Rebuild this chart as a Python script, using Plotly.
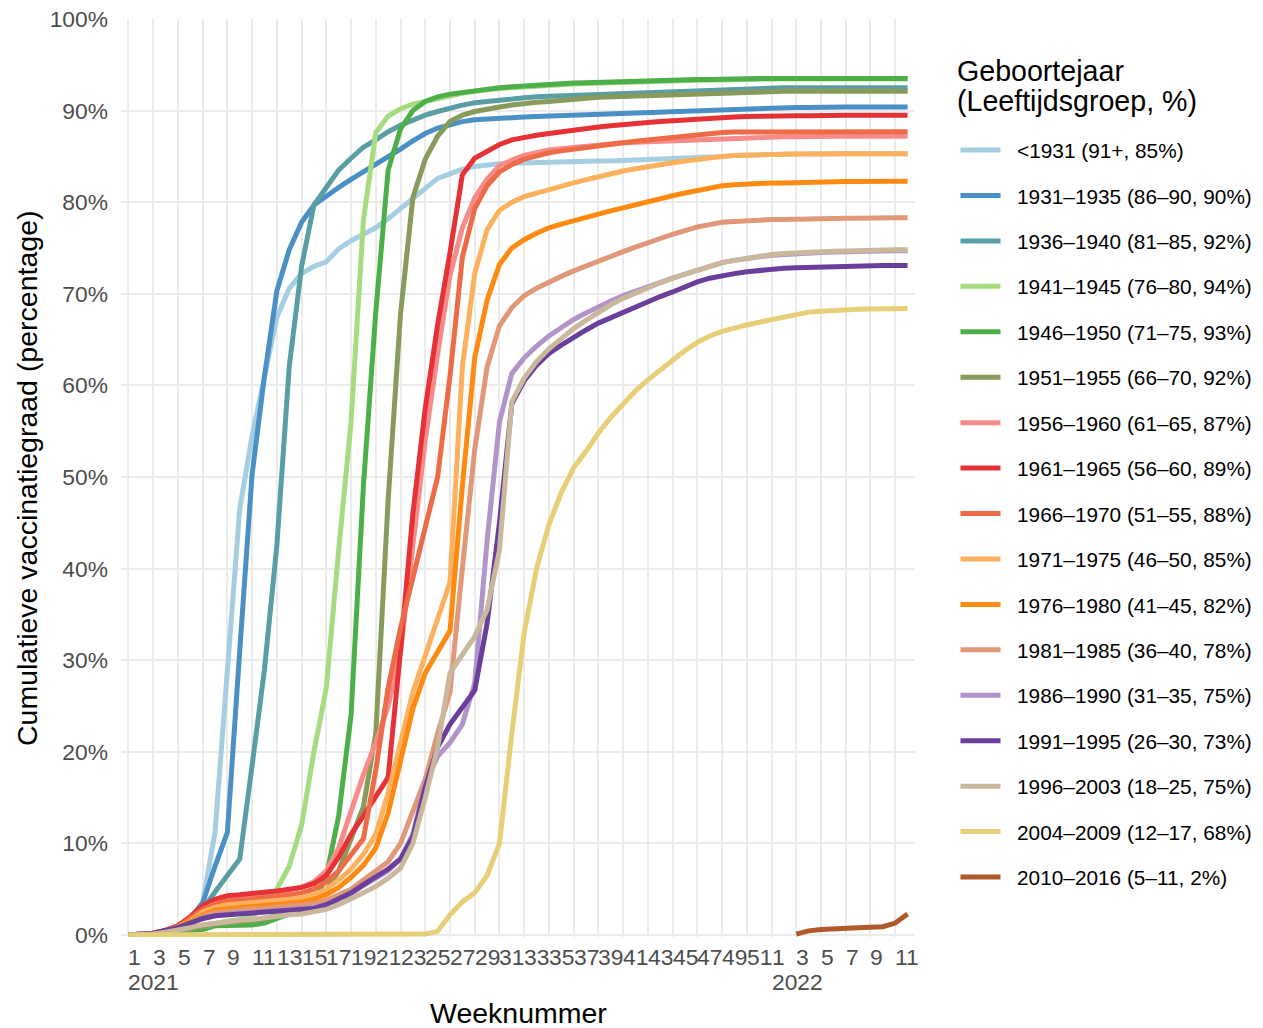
import plotly.graph_objects as go

# ---- categories: ISO weeks 2021-W01 .. 2022-W12 (x index 0..63)
WEEKS = [(2021, w) for w in range(1, 53)] + [(2022, w) for w in range(1, 13)]

NAMES = [
    "&lt;1931 (91+, 85%)",
    "1931–1935 (86–90, 90%)",
    "1936–1940 (81–85, 92%)",
    "1941–1945 (76–80, 94%)",
    "1946–1950 (71–75, 93%)",
    "1951–1955 (66–70, 92%)",
    "1956–1960 (61–65, 87%)",
    "1961–1965 (56–60, 89%)",
    "1966–1970 (51–55, 88%)",
    "1971–1975 (46–50, 85%)",
    "1976–1980 (41–45, 82%)",
    "1981–1985 (36–40, 78%)",
    "1986–1990 (31–35, 75%)",
    "1991–1995 (26–30, 73%)",
    "1996–2003 (18–25, 75%)",
    "2004–2009 (12–17, 68%)",
    "2010–2016 (5–11, 2%)",
]

COLORS = ["#a6cee3", "#4a90c4", "#5a9ea5", "#a6db80", "#4daf4a", "#899b5a",
          "#f78b89", "#e63236", "#ee6b47", "#fdb15e", "#ff8a12", "#e09878",
          "#b194ca", "#6a3f9c", "#c9b89b", "#e6cf76", "#b05a2a"]

# ---- cumulative vaccination (%) per week
V_LT1931 = [0, 0.05, 0.2, 0.4, 0.8, 1.8, 3.5, 11.2, 29, 46.5,
            54.5, 61, 67.4, 70.6, 72.2, 73, 73.5, 74.9, 75.8, 76.5,
            77.2, 78.2, 79.3, 80.4, 81.5, 82.6, 83.1, 83.6, 83.9, 84.1,
            84.2, 84.25, 84.3, 84.35, 84.35, 84.4, 84.4, 84.45, 84.5, 84.5,
            84.55, 84.6, 84.6, 84.65, 84.7, 84.75, 84.8, 84.9, 85.0, 85.1,
            85.15, 85.2, 85.2, 85.25, 85.25, 85.25, 85.3, 85.3, 85.3, 85.3,
            85.3, 85.3, 85.3, 85.3]
V_1931 = [0, 0.05, 0.2, 0.4, 0.8, 1.8, 3.5, 7.5, 11.2, 31,
          50.3, 61, 70.3, 74.8, 77.8, 79.7, 80.7, 81.6, 82.5, 83.3,
          84.2, 85, 85.8, 86.7, 87.5, 88.1, 88.5, 88.8, 89.0, 89.1,
          89.2, 89.25, 89.3, 89.35, 89.4, 89.45, 89.5, 89.55, 89.6, 89.65,
          89.7, 89.75, 89.8, 89.85, 89.9, 89.95, 90.0, 90.1, 90.15, 90.2,
          90.25, 90.3, 90.3, 90.35, 90.35, 90.35, 90.4, 90.4, 90.4, 90.4,
          90.4, 90.4, 90.4, 90.4]
V_1936 = [0, 0.05, 0.2, 0.4, 0.8, 1.5, 2.8, 4.7, 6.4, 8.3,
          18.5, 29, 42.5, 62, 73, 79.7, 81.6, 83.5, 84.8, 86,
          86.8, 87.7, 88.4, 89, 89.5, 89.9, 90.3, 90.6, 90.85, 91.0,
          91.2, 91.3, 91.4, 91.5, 91.55, 91.6, 91.65, 91.7, 91.8, 91.85,
          91.9, 91.95, 92.0, 92.05, 92.1, 92.15, 92.2, 92.3, 92.35, 92.4,
          92.4, 92.45, 92.45, 92.5, 92.5, 92.5, 92.5, 92.5, 92.5, 92.5,
          92.5, 92.5, 92.5, 92.5]
V_1941 = [0, 0, 0.1, 0.2, 0.4, 0.7, 1.0, 1.3, 1.5, 1.7,
          2.0, 3.0, 5.0, 7.5, 12, 20, 27, 42, 56, 78,
          87.6, 89.4, 90.2, 90.7, 91.0, 91.4, 91.7, 91.9, 92.1, 92.3,
          92.4, 92.5, 92.6, 92.65, 92.75, 92.85, 92.9, 92.95, 93.0, 93.05,
          93.1, 93.15, 93.2, 93.2, 93.25, 93.3, 93.3, 93.35, 93.35, 93.4,
          93.4, 93.4, 93.45, 93.45, 93.45, 93.45, 93.45, 93.45, 93.45, 93.45,
          93.45, 93.45, 93.45, 93.45]
V_1946 = [0, 0, 0.1, 0.2, 0.3, 0.4, 0.6, 1.0, 1.0, 1.0,
          1.1, 1.3, 1.8, 2.3, 2.6, 3.5, 6.4, 13, 24, 49,
          68, 83.5, 88, 90, 91, 91.5, 91.8, 92.0, 92.2, 92.4,
          92.5, 92.6, 92.7, 92.8, 92.85, 92.95, 93.0, 93.05, 93.1, 93.15,
          93.2, 93.25, 93.3, 93.3, 93.35, 93.35, 93.4, 93.4, 93.45, 93.45,
          93.45, 93.5, 93.5, 93.5, 93.5, 93.5, 93.5, 93.5, 93.5, 93.5,
          93.5, 93.5, 93.5, 93.5]
V_1951 = [0, 0, 0.1, 0.2, 0.4, 0.6, 0.9, 1.2, 1.3, 1.4,
          1.5, 1.7, 2.2, 2.6, 3.0, 3.6, 4.8, 7.0, 10.5, 14,
          22, 47.5, 67.8, 80.5, 84.7, 87.2, 88.8, 89.5, 89.9, 90.2,
          90.4, 90.6, 90.8, 90.9, 91.0, 91.15, 91.25, 91.35, 91.45, 91.5,
          91.55, 91.6, 91.65, 91.7, 91.75, 91.8, 91.85, 91.9, 91.95, 92.0,
          92.0, 92.05, 92.05, 92.1, 92.1, 92.1, 92.1, 92.1, 92.1, 92.1,
          92.1, 92.1, 92.1, 92.1]
V_1956 = [0, 0.05, 0.2, 0.5, 1.0, 1.9, 3.0, 3.7, 4.1, 4.2,
          4.3, 4.5, 4.7, 4.9, 5.2, 5.8, 7.0, 9.5, 13.5, 17.5,
          21, 25, 31, 43, 54, 63.4, 72, 77.2, 80.5, 82.5,
          84.0, 84.6, 85.1, 85.4, 85.7, 85.85, 86.0, 86.15, 86.3, 86.4,
          86.5, 86.55, 86.6, 86.7, 86.8, 86.85, 86.9, 86.95, 87.0, 87.05,
          87.05, 87.1, 87.1, 87.15, 87.15, 87.2, 87.2, 87.2, 87.2, 87.2,
          87.2, 87.2, 87.2, 87.2]
V_1961 = [0, 0.05, 0.2, 0.5, 1.0, 2.0, 3.2, 3.9, 4.3, 4.4,
          4.5, 4.6, 4.8, 5.0, 5.2, 5.6, 6.5, 8.5, 11, 13,
          15, 17.2, 31, 46, 57.5, 66.6, 74.5, 83, 84.8, 85.6,
          86.3, 86.8, 87.1, 87.3, 87.5, 87.7, 87.9, 88.05, 88.2, 88.35,
          88.5, 88.6, 88.7, 88.8, 88.9, 89.0, 89.1, 89.2, 89.25, 89.3,
          89.35, 89.4, 89.4, 89.45, 89.45, 89.45, 89.5, 89.5, 89.5, 89.5,
          89.5, 89.5, 89.5, 89.5]
V_1966 = [0, 0.05, 0.2, 0.45, 0.9, 1.8, 2.8, 3.4, 3.7, 3.8,
          3.9, 4.0, 4.2, 4.4, 4.6, 5.0, 5.8, 7.0, 8.8, 10.5,
          18, 27, 33.5, 39, 44.5, 50, 61, 74, 79.3, 81.8,
          83.3, 84.1, 84.7, 85.1, 85.4, 85.6, 85.8, 86.0, 86.2, 86.35,
          86.5, 86.65, 86.8, 86.95, 87.1, 87.25, 87.4, 87.5, 87.6, 87.65,
          87.65, 87.7, 87.7, 87.7, 87.7, 87.7, 87.7, 87.7, 87.7, 87.7,
          87.7, 87.7, 87.7, 87.7]
V_1971 = [0, 0.05, 0.2, 0.4, 0.8, 1.6, 2.5, 3.0, 3.3, 3.4,
          3.5, 3.6, 3.8, 3.9, 4.1, 4.4, 5.0, 6.0, 7.2, 8.8,
          11, 15.5, 21, 26.5, 30.5, 34.5, 38.5, 62, 72.2, 77,
          79.1, 80.0, 80.6, 81.0, 81.4, 81.75, 82.1, 82.45, 82.8, 83.1,
          83.4, 83.65, 83.9, 84.1, 84.3, 84.5, 84.7, 84.85, 85.0, 85.1,
          85.15, 85.2, 85.2, 85.25, 85.25, 85.25, 85.3, 85.3, 85.3, 85.3,
          85.3, 85.3, 85.3, 85.3]
V_1976 = [0, 0.05, 0.2, 0.4, 0.8, 1.5, 2.2, 2.7, 2.9, 3.0,
          3.1, 3.2, 3.3, 3.5, 3.6, 3.9, 4.4, 5.2, 6.3, 7.6,
          9.5, 13.3, 18.8, 24.7, 28.6, 30.8, 33.2, 49, 63, 69.3,
          73.2, 75.0, 75.9, 76.6, 77.2, 77.6, 78.0, 78.35, 78.7, 79.05,
          79.4, 79.7, 80.0, 80.35, 80.7, 81.0, 81.3, 81.55, 81.8, 81.9,
          82.0, 82.05, 82.1, 82.1, 82.15, 82.15, 82.2, 82.2, 82.25, 82.25,
          82.3, 82.3, 82.3, 82.3]
V_1981 = [0, 0.05, 0.2, 0.4, 0.7, 1.3, 2.0, 2.4, 2.6, 2.7,
          2.8, 2.9, 3.0, 3.1, 3.2, 3.4, 3.8, 4.4, 5.0, 6.0,
          7.0, 8.0, 10, 13.5, 17, 22, 26.5, 40, 53, 62,
          66.5, 68.5, 69.8, 70.6, 71.3, 71.9, 72.5, 73.05, 73.6, 74.1,
          74.6, 75.1, 75.6, 76.05, 76.5, 76.9, 77.3, 77.55, 77.8, 77.9,
          78.0, 78.05, 78.1, 78.1, 78.15, 78.15, 78.2, 78.2, 78.25, 78.25,
          78.3, 78.3, 78.3, 78.3]
V_1986 = [0, 0.05, 0.2, 0.4, 0.7, 1.2, 1.8, 2.1, 2.3, 2.4,
          2.4, 2.5, 2.6, 2.7, 2.8, 3.0, 3.3, 3.9, 4.5, 5.4,
          6.2, 7.0, 8.3, 11, 16.5, 19.5, 21, 23, 27.5, 43,
          56, 61.3, 63, 64.3, 65.4, 66.3, 67.2, 67.9, 68.6, 69.2,
          69.8, 70.3, 70.8, 71.25, 71.7, 72.15, 72.6, 73.0, 73.4, 73.65,
          73.9, 74.05, 74.2, 74.3, 74.4, 74.45, 74.5, 74.55, 74.6, 74.65,
          74.7, 74.7, 74.7, 74.7]
V_1991 = [0, 0.05, 0.2, 0.5, 0.8, 1.3, 1.8, 2.1, 2.2, 2.3,
          2.3, 2.4, 2.5, 2.6, 2.7, 2.9, 3.3, 3.9, 4.6, 5.5,
          6.3, 7.2, 8.3, 10.7, 16.1, 20.5, 23, 24.8, 26.7, 34,
          45, 58, 60.5, 62.2, 63.5, 64.4, 65.3, 66.05, 66.8, 67.4,
          68.0, 68.6, 69.2, 69.7, 70.2, 70.75, 71.3, 71.7, 72.0, 72.2,
          72.4, 72.55, 72.7, 72.8, 72.85, 72.9, 72.95, 73.0, 73.0, 73.05,
          73.1, 73.1, 73.1, 73.1]
V_1996 = [0, 0, 0.1, 0.3, 0.5, 0.8, 1.1, 1.3, 1.5, 1.6,
          1.7, 1.9, 2.1, 2.2, 2.3, 2.5, 2.8, 3.3, 3.9, 4.6,
          5.3, 6.2, 7.3, 10, 15, 20.5, 28.6, 30.5, 32.6, 35.5,
          42, 58.2, 60.8, 62.6, 64.0, 65.1, 66.2, 67.1, 68.0, 68.8,
          69.5, 70.1, 70.7, 71.2, 71.7, 72.15, 72.6, 73.0, 73.4, 73.65,
          73.9, 74.1, 74.3, 74.4, 74.5, 74.55, 74.6, 74.65, 74.7, 74.75,
          74.8, 74.8, 74.8, 74.8]
V_2004 = [0, 0, 0, 0, 0, 0, 0, 0, 0, 0,
          0, 0, 0, 0, 0, 0, 0, 0, 0, 0,
          0, 0.05, 0.05, 0.05, 0.1, 0.4, 2.2, 3.6, 4.6, 6.5,
          10, 22, 33, 40, 44.8, 48.3, 51.0, 52.8, 54.8, 56.5,
          58.0, 59.4, 60.6, 61.7, 62.8, 63.8, 64.7, 65.4, 65.9, 66.3,
          66.6, 66.9, 67.2, 67.5, 67.8, 68.0, 68.1, 68.2, 68.25, 68.3,
          68.35, 68.4, 68.4, 68.4]
V_2010 = [None] * 54 + [0.1, 0.45, 0.6, 0.7, 0.75, 0.8, 0.85, 0.9, 1.3, 2.3]

SERIES = [V_LT1931, V_1931, V_1936, V_1941, V_1946, V_1951, V_1956, V_1961,
          V_1966, V_1971, V_1976, V_1981, V_1986, V_1991, V_1996, V_2004, V_2010]

FONT = "Liberation Sans, Arial, Helvetica, sans-serif"
X_IDX = list(range(len(WEEKS)))
NBSP = "\u00a0\u00a0"

fig = go.Figure()
for k, (name, col, vals) in enumerate(zip(NAMES, COLORS, SERIES)):
    fig.add_trace(go.Scatter(
        x=X_IDX, y=vals, mode="lines", name=NBSP + name, legendgroup=f"g{k}",
        line=dict(color=col, width=5), connectgaps=False,
    ))

tick_idx = [i for i, (yr, w) in enumerate(WEEKS) if w % 2 == 1]

annotations = []
for i in tick_idx:
    yr, w = WEEKS[i]
    annotations.append(dict(x=i, xref="x", y=0, yref="paper", text=str(w),
                            xanchor="left", yanchor="top", yshift=-5, xshift=-2,
                            showarrow=False,
                            font=dict(family=FONT, size=22.8, color="#4d4d4d")))
    if w == 1:
        annotations.append(dict(x=i, xref="x", y=0, yref="paper", text=str(yr),
                                xanchor="left", yanchor="top", yshift=-30, xshift=-2,
                                showarrow=False,
                                font=dict(family=FONT, size=22.8, color="#4d4d4d")))

annotations.append(dict(x=0.5, xref="paper", y=-0.0632, yref="paper",
                        text="Weeknummer", xanchor="center", yanchor="top",
                        showarrow=False, font=dict(family=FONT, size=28.5, color="black")))
annotations.append(dict(x=-0.1184, xref="paper", y=0.5, yref="paper",
                        text="Cumulatieve vaccinatiegraad (percentage)", textangle=-90,
                        xanchor="center", yanchor="middle",
                        showarrow=False, font=dict(family=FONT, size=28.5, color="black")))
annotations.append(dict(x=1.051, xref="paper", y=0.963, yref="paper",
                        text="Geboortejaar", xanchor="left", yanchor="top",
                        showarrow=False, font=dict(family=FONT, size=28.6, color="black")))
annotations.append(dict(x=1.051, xref="paper", y=0.9303, yref="paper",
                        text="(Leeftijdsgroep, %)", xanchor="left", yanchor="top",
                        showarrow=False, font=dict(family=FONT, size=28.6, color="black")))

fig.update_layout(
    width=1263, height=1028,
    margin=dict(l=121, r=348, t=19, b=91, pad=0, autoexpand=False),
    paper_bgcolor="white", plot_bgcolor="white",
    font=dict(family=FONT),
    showlegend=True,
    legend=dict(xref="container", yref="container",
                x=955.5 / 1263, xanchor="left", y=1 - 130 / 1028, yanchor="top",
                font=dict(family=FONT, size=20.8, color="black"),
                tracegroupgap=15.4, itemwidth=40, maxheight=950,
                bgcolor="rgba(0,0,0,0)"),
    annotations=annotations,
    xaxis=dict(range=[-0.6, 63.6], tickvals=tick_idx, showticklabels=False,
               showgrid=True, gridcolor="#ebebeb", gridwidth=2,
               zeroline=False, showline=False, ticks="", automargin=False),
    yaxis=dict(range=[-0.22, 100], tickvals=list(range(0, 101, 10)),
               ticktext=[f"{v}%" for v in range(0, 101, 10)],
               tickfont=dict(family=FONT, size=22.8, color="#4d4d4d"),
               showgrid=True, gridcolor="#ebebeb", gridwidth=2, automargin=False,
               zeroline=False, showline=False, ticks="", ticklabelstandoff=12),
)

fig.write_html(
    "out.html",
    config={"displayModeBar": False},
    post_script="document.body.style.margin='0px';document.body.style.overflow='hidden';",
)
